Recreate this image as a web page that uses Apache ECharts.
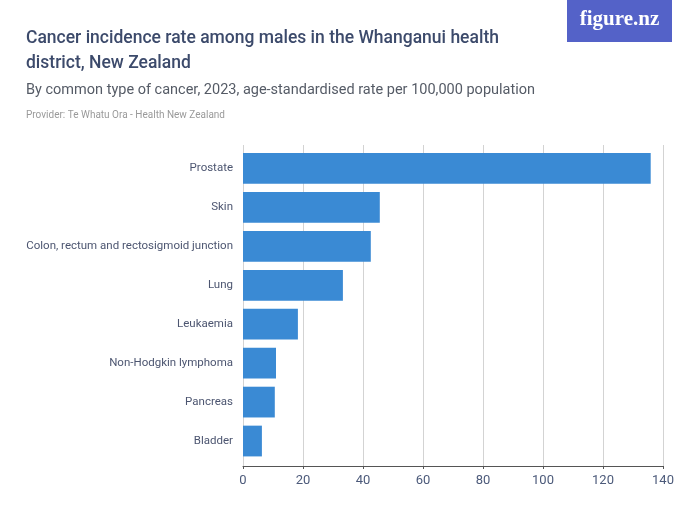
<!DOCTYPE html>
<html>
<head>
<meta charset="utf-8">
<script src="https://cdn.jsdelivr.net/npm/echarts@6/dist/echarts.min.js"></script>
<style>
  html, body { margin: 0; padding: 0; background: #fff; }
  #chart { width: 700px; height: 525px; }
</style>
</head>
<body>
<div id="chart"></div>
<script>
const categories = ['Prostate', 'Skin', 'Colon, rectum and rectosigmoid junction', 'Lung', 'Leukaemia', 'Non-Hodgkin lymphoma', 'Pancreas', 'Bladder']
const rates = [135.9, 45.6, 42.6, 33.3, 18.3, 11.0, 10.6, 6.3]
const xTicks = [0, 20, 40, 60, 80, 100, 120, 140]

const font = 'Roboto, sans-serif'
const myChart = echarts.init(document.getElementById('chart'))
// grid 0 carries the x axis and gridlines, grid 1 (a bit inset) carries the bars
let option = {
  animation: false,
  title: [
    {
      text: 'Cancer incidence rate among males in the Whanganui health\ndistrict, New Zealand',
      left: 21,
      top: 21,
      textStyle: { fontFamily: font, fontSize: 17.5, fontWeight: 500, color: '#3c4a6b', lineHeight: 25 }
    },
    {
      text: 'By common type of cancer, 2023, age-standardised rate per 100,000 population',
      left: 21,
      top: 78,
      textStyle: { fontFamily: font, fontSize: 14.5, fontWeight: 'normal', color: '#555b66' }
    },
    {
      text: 'Provider: Te Whatu Ora - Health New Zealand',
      left: 21,
      top: 105,
      textStyle: { fontFamily: font, fontSize: 10, fontWeight: 'normal', color: '#9a9a9a' }
    }
  ],
  graphic: [
    { type: 'rect', shape: { x: 567, y: 0, width: 105, height: 42 }, style: { fill: '#5462c8' } },
    {
      type: 'text', x: 619.5, y: 20,
      style: { text: 'figure.nz', fill: '#fff', align: 'center', verticalAlign: 'middle', font: 'bold 21px "Liberation Serif", serif' }
    }
  ],
  grid: [
    { left: 243, right: 37, top: 145, bottom: 59, outerBoundsMode: 'none' },
    { left: 243, right: 37, top: 149, bottom: 64.5, outerBoundsMode: 'none' }
  ],
  xAxis: [
    {
      type: 'value',
      gridIndex: 0,
      min: 0,
      max: 140,
      interval: 20,
      axisLine: { show: true, lineStyle: { color: '#555', width: 1 } },
      axisTick: { show: true, length: 3, lineStyle: { color: '#555' } },
      splitLine: { show: true, lineStyle: { color: '#d3d3d3', width: 1 } },
      axisLabel: {
        fontFamily: font, fontSize: 13, color: '#4c5a7a', margin: 8,
        formatter: v => xTicks.includes(v) ? String(v) : ''
      }
    },
    {
      type: 'value',
      gridIndex: 1,
      min: 0,
      max: 140,
      show: false
    }
  ],
  yAxis: [
    {
      type: 'category',
      gridIndex: 0,
      data: categories,
      show: false
    },
    {
      type: 'category',
      gridIndex: 1,
      inverse: true,
      data: categories,
      axisLine: { show: false },
      axisTick: { show: false },
      axisLabel: { fontFamily: font, fontSize: 11.5, color: '#4c5570', margin: 10 }
    }
  ],
  series: [
    {
      type: 'bar',
      xAxisIndex: 1,
      yAxisIndex: 1,
      data: rates,
      barCategoryGap: '21%',
      itemStyle: { color: '#3a8ad4' }
    }
  ]
}
myChart.setOption(option)
</script>
</body>
</html>
